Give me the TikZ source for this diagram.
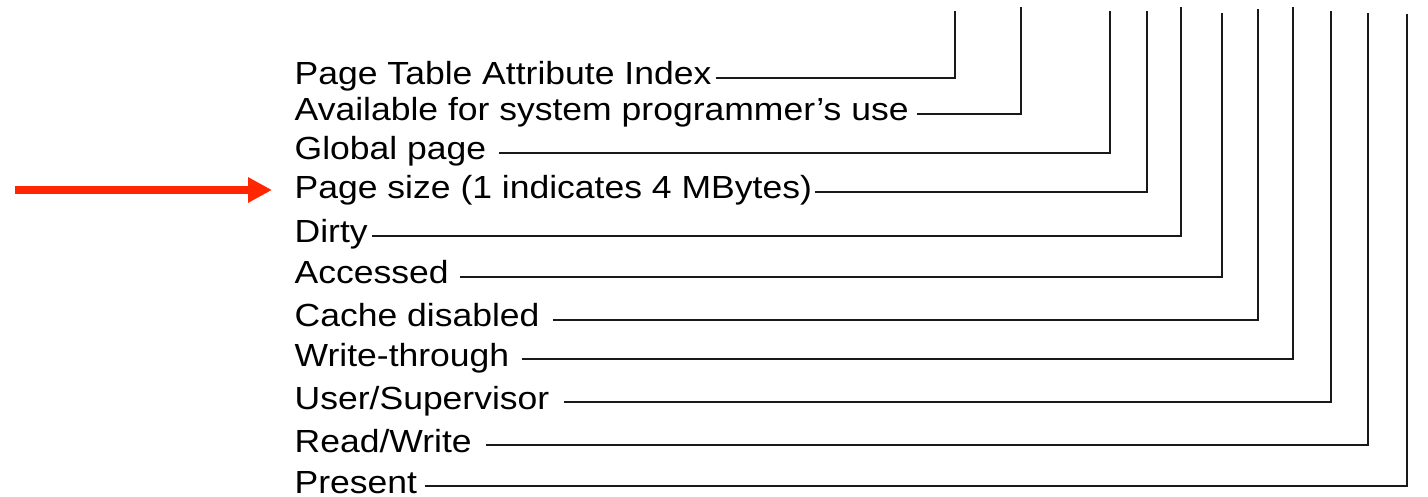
\documentclass[tikz,border=0pt]{standalone}
\usepackage{fontspec}
\setmainfont{Liberation Sans}[FakeStretch=1.11]
\usetikzlibrary{arrows.meta}
\definecolor{arrowred}{HTML}{FF2600}
\begin{document}
\begin{tikzpicture}[x=1pt,y=1pt,
  lbl/.style={anchor=base west,inner sep=0pt,font=\fontsize{32}{38}\selectfont},
  lead/.style={line width=1.6pt,draw=black!90},
  redarrow/.style={draw=arrowred,line width=8pt,-{Triangle[length=24pt,width=24pt]}}]
\useasboundingbox (0,0) rectangle (1428,496);
% labels
\node[lbl] (pta)   at (294.5,411) {Page Table Attribute Index};
\node[lbl] (avail) at (294.5,375) {Available for system programmer’s use};
\node[lbl] (glob)  at (294.5,336) {Global page};
\node[lbl] (ps)    at (294.5,297) {Page size (1 indicates 4 MBytes)};
\node[lbl] (dirty) at (294.5,253) {Dirty};
\node[lbl] (acc)   at (294.5,212) {Accessed};
\node[lbl] (cache) at (294.5,169) {Cache disabled};
\node[lbl] (wt)    at (294.5,130) {Write-through};
\node[lbl] (us)    at (294.5,87)  {User/Supervisor};
\node[lbl] (rw)    at (294.5,44)  {Read/Write};
\node[lbl] (pr)    at (294.5,3)   {Present};
% tops of the bit leads
\coordinate (t1)  at (955,485);
\coordinate (t2)  at (1021,489);
\coordinate (t3)  at (1110,485);
\coordinate (t4)  at (1147,485);
\coordinate (t5)  at (1181,489);
\coordinate (t6)  at (1222,483);
\coordinate (t7)  at (1258,487);
\coordinate (t8)  at (1293,489);
\coordinate (t9)  at (1331,485);
\coordinate (t10) at (1368,483);
\coordinate (t11) at (1407,482);
% leads
\draw[lead] ([shift={(4,7)}]pta.base east)   -| (t1);
\draw[lead] ([shift={(8,7)}]avail.base east) -| (t2);
\draw[lead] ([shift={(13,7)}]glob.base east) -| (t3);
\draw[lead] ([shift={(3,7)}]ps.base east)    -| (t4);
\draw[lead] ([shift={(4,7)}]dirty.base east) -| (t5);
\draw[lead] ([shift={(11,7)}]acc.base east)  -| (t6);
\draw[lead] ([shift={(13,7)}]cache.base east) -| (t7);
\draw[lead] ([shift={(13,7)}]wt.base east)   -| (t8);
\draw[lead] ([shift={(14,7)}]us.base east)   -| (t9);
\draw[lead] ([shift={(14,7)}]rw.base east)   -| (t10);
\draw[lead] ([shift={(8,7)}]pr.base east)    -| (t11);
% red pointer
\coordinate (astart) at (15,306);
\coordinate (aend) at (272,306);
\draw[redarrow] (astart) -- (aend);
\end{tikzpicture}
\end{document}
